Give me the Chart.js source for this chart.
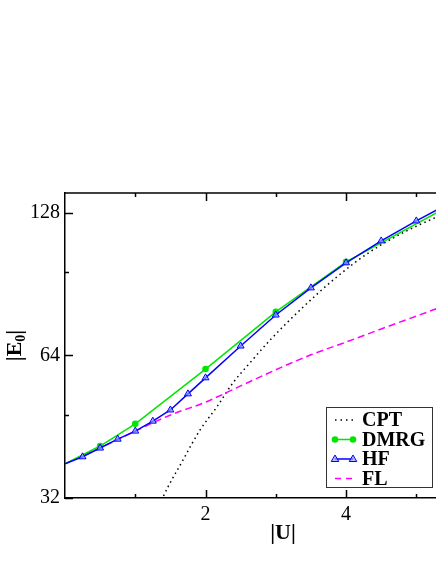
<!DOCTYPE html>
<html>
<head>
<meta charset="utf-8">
<script src="https://cdn.jsdelivr.net/npm/chart.js@4.4.1/dist/chart.umd.min.js"></script>
<style>
  html, body { margin: 0; padding: 0; background: #fff; }
  #wrap { width: 436px; height: 564px; position: relative; }
</style>
</head>
<body>
<div id="wrap"><canvas id="chart"></canvas></div>
<script>
// --- DATA ---
const cptU  = [1.30, 1.39, 1.68, 1.92, 2.16, 2.39, 2.63, 2.92, 3.39, 3.87, 4.34, 4.81, 5.26, 5.50];
const cptE  = [29.5, 32.0, 38.5, 44.5, 49.8, 56.0, 61.7, 69.0, 81.0, 93.8, 105.9, 116.2, 124.9, 129.5];

const dmrgU = [0, 0.5, 1, 2, 3, 4, 6];
const dmrgE = [37.8, 41.2, 45.9, 59.9, 79.1, 100.9, 146];

const hfU   = [0, 0.25, 0.5, 0.75, 1, 1.25, 1.5, 1.75, 2, 2.5, 3, 3.5, 4, 4.5, 5, 5.5];
const hfE   = [37.8, 39.1, 40.8, 42.6, 44.3, 46.5, 49.1, 53.1, 57.4, 67.0, 77.9, 88.9, 100.4, 111.7, 123.1, 135];

const flU   = [0, 0.5, 1, 1.5, 2, 2.5, 3, 3.5, 4, 4.5, 5, 5.5];
const flE   = [37.8, 40.8, 44.3, 47.9, 51.0, 55.2, 59.7, 64.2, 68.3, 72.8, 77.5, 82.5];

// axis ticks
const xTicks = [1, 2, 3, 4, 5];
const xLabels = [2, 4];
const yTicks = [32, 48, 64, 96, 128];
const yLabels = [32, 64, 128];

const SERIF = '"Liberation Serif", "DejaVu Serif", serif';

function pts(us, es) {
  return us.map((u, i) => ({ x: u, y: es[i] }));
}

// --- inward ticks, top frame, axis titles, legend ---
const framePlugin = {
  id: 'frame',
  afterDraw(chart) {
    const ctx = chart.ctx;
    const ca = chart.chartArea;
    const xs = chart.scales.x, ys = chart.scales.y;
    ctx.save();
    ctx.strokeStyle = '#000';
    ctx.lineWidth = 1.5;

    // top frame line
    ctx.beginPath();
    ctx.moveTo(ca.left, ca.top);
    ctx.lineTo(chart.width, ca.top);
    ctx.stroke();

    // x ticks bottom + top
    xTicks.forEach(u => {
      const px = Math.round(xs.getPixelForValue(u)) + 0.5;
      const len = xLabels.includes(u) ? 8 : 4;
      ctx.beginPath();
      ctx.moveTo(px, ca.bottom); ctx.lineTo(px, ca.bottom - len);
      ctx.moveTo(px, ca.top); ctx.lineTo(px, ca.top + len);
      ctx.stroke();
    });
    // y ticks left
    yTicks.forEach(e => {
      const py = Math.round(ys.getPixelForValue(e)) + 0.5;
      const len = yLabels.includes(e) ? 8 : 4;
      ctx.beginPath();
      ctx.moveTo(ca.left, py); ctx.lineTo(ca.left + len, py);
      ctx.stroke();
    });

    // x title |U|
    ctx.fillStyle = '#000';
    ctx.font = 'bold 22px ' + SERIF;
    ctx.textAlign = 'center';
    ctx.textBaseline = 'middle';
    ctx.fillText('|U|', 283, 533);

    // y title |E0| (rotated, subscript 0)
    ctx.save();
    ctx.translate(14, (ca.top + ca.bottom) / 2);
    ctx.rotate(-Math.PI / 2);
    ctx.textBaseline = 'alphabetic';
    ctx.textAlign = 'left';
    const big = 'bold 22px ' + SERIF, small = 'bold 14px ' + SERIF;
    ctx.font = big;
    const wA = ctx.measureText('|E').width, wC = ctx.measureText('|').width;
    ctx.font = small;
    const wB = ctx.measureText('0').width;
    let x0 = -(wA + wB + wC) / 2;
    ctx.font = big;
    ctx.fillText('|E', x0, 7);
    ctx.font = small;
    ctx.fillText('0', x0 + wA, 11);
    ctx.font = big;
    ctx.fillText('|', x0 + wA + wB, 7);
    ctx.restore();

    // legend box
    const bx = 326, by = 407, bw = 106, bh = 80;
    ctx.fillStyle = '#fff';
    ctx.fillRect(bx, by, bw, bh);
    ctx.strokeStyle = '#333';
    ctx.lineWidth = 1;
    ctx.strokeRect(bx + 0.5, by + 0.5, bw, bh);

    const rows = [
      { label: 'CPT',  ds: 0 },
      { label: 'DMRG', ds: 1 },
      { label: 'HF',   ds: 2 },
      { label: 'FL',   ds: 3 }
    ];
    const x1 = 335, x2 = 353;
    rows.forEach((r, i) => {
      const yy = 420 + i * 19.5;
      const d = chart.data.datasets[r.ds];
      ctx.save();
      ctx.strokeStyle = d.borderColor;
      ctx.lineWidth = d.borderWidth;
      if (r.label === 'CPT') ctx.setLineDash([1.5, 4]);
      else if (r.label === 'FL') ctx.setLineDash([6, 5]);
      else ctx.setLineDash([]);
      ctx.beginPath();
      ctx.moveTo(x1, yy); ctx.lineTo(x2, yy);
      ctx.stroke();
      ctx.setLineDash([]);
      if (r.label === 'DMRG') {
        ctx.fillStyle = d.borderColor;
        [x1, x2].forEach(px => { ctx.beginPath(); ctx.arc(px, yy, 3.3, 0, Math.PI * 2); ctx.fill(); });
      }
      if (r.label === 'HF') {
        ctx.fillStyle = d.pointBackgroundColor;
        ctx.lineWidth = 1;
        [x1, x2].forEach(px => {
          ctx.beginPath();
          ctx.moveTo(px, yy - 4); ctx.lineTo(px + 3.8, yy + 2.5); ctx.lineTo(px - 3.8, yy + 2.5);
          ctx.closePath(); ctx.fill(); ctx.stroke();
        });
      }
      ctx.restore();
      ctx.fillStyle = '#000';
      ctx.font = 'bold 20px ' + SERIF;
      ctx.textAlign = 'left';
      ctx.textBaseline = 'middle';
      ctx.fillText(r.label, 362, yy + 1);
    });
    ctx.restore();
  }
};

new Chart(document.getElementById('chart'), {
  type: 'line',
  data: {
    datasets: [
      {
        label: 'CPT', data: pts(cptU, cptE),
        borderColor: '#000', borderWidth: 1.5, borderDash: [1.5, 3.5],
        pointRadius: 0, cubicInterpolationMode: 'monotone', order: 3
      },
      {
        label: 'DMRG', data: pts(dmrgU, dmrgE),
        borderColor: '#00e600', backgroundColor: '#00e600', borderWidth: 1.5,
        pointRadius: dmrgU.map(u => u === 0 ? 0 : 3.3), pointBorderWidth: 0,
        pointBackgroundColor: '#00e600', tension: 0, order: 1
      },
      {
        label: 'HF', data: pts(hfU, hfE),
        borderColor: '#0000ff', borderWidth: 1.5,
        pointStyle: 'triangle', pointRadius: hfU.map(u => u === 0 ? 0 : 4),
        pointBorderColor: '#0000ff', pointBorderWidth: 1,
        pointBackgroundColor: 'rgba(150,160,255,0.7)', tension: 0, order: 0
      },
      {
        label: 'FL', data: pts(flU, flE),
        borderColor: '#ff00ff', borderWidth: 1.5, borderDash: [7, 4],
        pointRadius: 0, cubicInterpolationMode: 'monotone', order: 2
      }
    ]
  },
  options: {
    responsive: true,
    maintainAspectRatio: false,
    animation: false,
    layout: { autoPadding: false, padding: { top: 193, right: 0, bottom: 0, left: 0 } },
    plugins: { legend: { display: false }, tooltip: { enabled: false } },
    scales: {
      x: {
        type: 'linear', min: 0, max: 5.28,
        grid: { display: false, drawTicks: false },
        border: { display: true, color: '#000', width: 1.5 },
        afterBuildTicks: s => { s.ticks = xTicks.map(v => ({ value: v })); },
        afterFit: s => { s.height = 66; s.paddingRight = 0; s.paddingLeft = 0; },
        ticks: {
          autoSkip: false, maxRotation: 0, padding: 5, color: '#000',
          font: { family: SERIF, size: 20 },
          callback: v => xLabels.includes(v) ? String(v) : ''
        }
      },
      y: {
        type: 'logarithmic', min: 32, max: 141,
        grid: { display: false, drawTicks: false },
        border: { display: true, color: '#000', width: 1.5 },
        afterBuildTicks: s => { s.ticks = yTicks.map(v => ({ value: v })); },
        afterFit: s => { s.width = 65; s.paddingTop = 0; s.paddingBottom = 0; },
        ticks: {
          autoSkip: false, padding: 5, color: '#000',
          font: { family: SERIF, size: 20 },
          callback: v => yLabels.includes(v) ? String(v) : ''
        }
      }
    }
  },
  plugins: [framePlugin]
});
</script>
</body>
</html>
